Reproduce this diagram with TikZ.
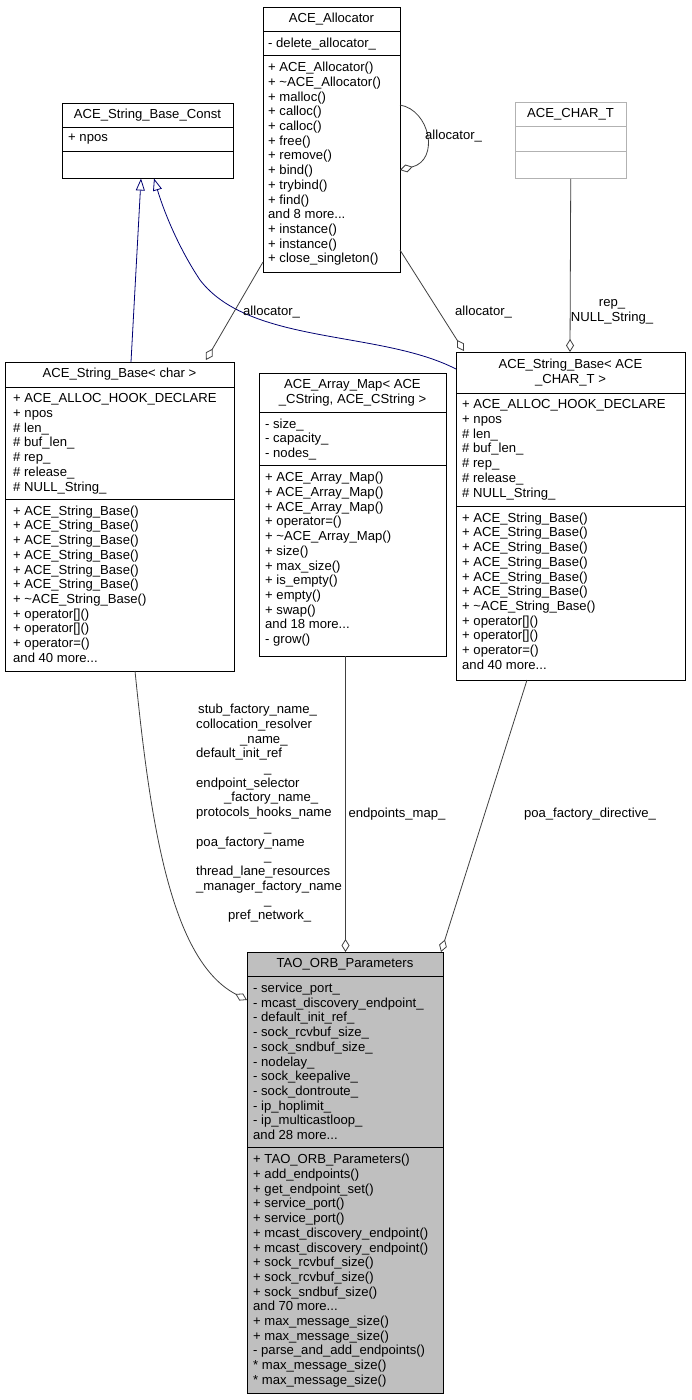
\documentclass[tikz,border=0pt]{standalone}
\usepackage{fontspec}
\setmainfont{Liberation Sans}
\usetikzlibrary{arrows.meta}
\begin{document}
\begin{tikzpicture}[x=1pt,y=-1pt,
  box/.style={draw=black,line width=0.8pt,fill=white,anchor=north west,inner sep=0pt},
  txt/.style={anchor=north west,inner sep=0pt,align=left,font=\fontsize{13.1}{14.7}\selectfont},
  ttl/.style={anchor=north,inner sep=0pt,align=center,font=\fontsize{13.1}{14.7}\selectfont},
  sep/.style={line width=0.8pt},
  agg/.style={draw=black!75,line width=0.8pt,-{Diamond[open,length=13pt,width=8pt,fill=white]}},
  inh/.style={draw=blue!45!black,line width=0.8pt,-{Triangle[open,length=12pt,width=9pt,fill=white]}},
  lbl/.style={inner sep=0pt,align=center,font=\fontsize{13.1}{14.7}\selectfont}]
\useasboundingbox (0,0) rectangle (691,1400);
\fill[white] (0,0) rectangle (691,1400);

% ACE_String_Base_Const
\node[box,minimum width=171pt,minimum height=75pt] (const) at (62,103) {};
\draw[sep] (62,127.3) -- (233,127.3); \draw[sep] (62,151.6) -- (233,151.6);
\node[ttl] (constT) at (147.5,109) {ACE\_String\_Base\_Const};
\node[txt] (constA) at (68,133.8) {+ npos};

% ACE_Allocator
\node[box,minimum width=137pt,minimum height=265pt] (alloc) at (263,7) {};
\draw[sep] (263,31.3) -- (400,31.3); \draw[sep] (263,55.6) -- (400,55.6);
\node[ttl] (allocT) at (331.5,13) {ACE\_Allocator};
\node[txt] (allocA) at (268,37.8) {- delete\_allocator\_};
\node[txt] (allocM) at (268,62.1) {+ ACE\_Allocator()\\+ \textasciitilde ACE\_Allocator()\\+ malloc()\\+ calloc()\\+ calloc()\\+ free()\\+ remove()\\+ bind()\\+ trybind()\\+ find()\\and 8 more...\\+ instance()\\+ instance()\\+ close\_singleton()};

% ACE_CHAR_T
\node[box,draw=black!30,minimum width=111pt,minimum height=76pt] (chart) at (515,102) {};
\draw[sep,black!30] (515,126.3) -- (626,126.3); \draw[sep,black!30] (515,151.6) -- (626,151.6);
\node[ttl] (chartT) at (570.5,108) {ACE\_CHAR\_T};

% ACE_String_Base<char>
\node[box,minimum width=229pt,minimum height=309pt] (sbc) at (5,362) {};
\draw[sep] (5,387) -- (234,387); \draw[sep] (5,499) -- (234,499);
\node[ttl] (sbcT) at (119.5,368) {ACE\_String\_Base< char >};
\node[txt] (sbcA) at (13,393.5) {+ ACE\_ALLOC\_HOOK\_DECLARE\\+ npos\\\# len\_\\\# buf\_len\_\\\# rep\_\\\# release\_\\\# NULL\_String\_};
\node[txt] (sbcM) at (13,505.5) {+ ACE\_String\_Base()\\+ ACE\_String\_Base()\\+ ACE\_String\_Base()\\+ ACE\_String\_Base()\\+ ACE\_String\_Base()\\+ ACE\_String\_Base()\\+ \textasciitilde ACE\_String\_Base()\\+ operator[]()\\+ operator[]()\\+ operator=()\\and 40 more...};

% ACE_Array_Map
\node[box,minimum width=187pt,minimum height=283pt] (amap) at (259,373) {};
\draw[sep] (259,412) -- (446,412); \draw[sep] (259,465.7) -- (446,465.7);
\node[ttl] (amapT) at (352.5,379) {ACE\_Array\_Map< ACE\\\_CString, ACE\_CString >};
\node[txt] (amapA) at (265,418.5) {- size\_\\- capacity\_\\- nodes\_};
\node[txt] (amapM) at (265,472.2) {+ ACE\_Array\_Map()\\+ ACE\_Array\_Map()\\+ ACE\_Array\_Map()\\+ operator=()\\+ \textasciitilde ACE\_Array\_Map()\\+ size()\\+ max\_size()\\+ is\_empty()\\+ empty()\\+ swap()\\and 18 more...\\- grow()};

% ACE_String_Base<ACE_CHAR_T>
\node[box,minimum width=229pt,minimum height=328pt] (sbt) at (456,352) {};
\draw[sep] (456,393) -- (685,393); \draw[sep] (456,506) -- (685,506);
\node[ttl] (sbtT) at (570.5,359) {ACE\_String\_Base< ACE\\\_CHAR\_T >};
\node[txt] (sbtA) at (462,399.5) {+ ACE\_ALLOC\_HOOK\_DECLARE\\+ npos\\\# len\_\\\# buf\_len\_\\\# rep\_\\\# release\_\\\# NULL\_String\_};
\node[txt] (sbtM) at (462,512.5) {+ ACE\_String\_Base()\\+ ACE\_String\_Base()\\+ ACE\_String\_Base()\\+ ACE\_String\_Base()\\+ ACE\_String\_Base()\\+ ACE\_String\_Base()\\+ \textasciitilde ACE\_String\_Base()\\+ operator[]()\\+ operator[]()\\+ operator=()\\and 40 more...};

% TAO_ORB_Parameters
\node[box,fill=black!25,minimum width=196pt,minimum height=441pt] (tao) at (247,952) {};
\draw[sep] (247,976.3) -- (443,976.3); \draw[sep] (247,1147.6) -- (443,1147.6);
\node[ttl] (taoT) at (345,958) {TAO\_ORB\_Parameters};
\node[txt] (taoA) at (253,982.8) {- service\_port\_\\- mcast\_discovery\_endpoint\_\\- default\_init\_ref\_\\- sock\_rcvbuf\_size\_\\- sock\_sndbuf\_size\_\\- nodelay\_\\- sock\_keepalive\_\\- sock\_dontroute\_\\- ip\_hoplimit\_\\- ip\_multicastloop\_\\and 28 more...};
\node[txt] (taoM) at (253,1154.1) {+ TAO\_ORB\_Parameters()\\+ add\_endpoints()\\+ get\_endpoint\_set()\\+ service\_port()\\+ service\_port()\\+ mcast\_discovery\_endpoint()\\+ mcast\_discovery\_endpoint()\\+ sock\_rcvbuf\_size()\\+ sock\_rcvbuf\_size()\\+ sock\_sndbuf\_size()\\and 70 more...\\+ max\_message\_size()\\+ max\_message\_size()\\- parse\_and\_add\_endpoints()\\* max\_message\_size()\\* max\_message\_size()};

% inheritance
\draw[inh] (131,362) -- (141,178.5);
\draw[inh] (456,369) .. controls (380,330) and (250,345) .. (200,280) .. controls (180,250) and (165,215) .. (154,178.5);

% aggregation
\coordinate (a1) at (263,262); \coordinate (a2) at (400,250);
\draw[agg] (a1) -- (206,360);
\draw[agg] (a2) -- (464,351);
\draw[agg] (400,105) .. controls (430,110) and (440,160) .. (400,170);
\draw[agg] (chart) -- (570,352);
\draw[agg] (135,671) .. controls (150,820) and (170,960) .. (247,1000);
\draw[agg] (345.5,656) -- (345.5,952);
\draw[agg] (527,680) -- (441,952);

% labels
\node[lbl,anchor=west] (l1) at (425,136) {allocator\_};
\node[lbl,anchor=west] (l2) at (243,312) {allocator\_};
\node[lbl,anchor=west] (l3) at (455,312) {allocator\_};
\node[lbl] (l4) at (612,312) {rep\_\\NULL\_String\_};
\node[lbl] (l5) at (397,814) {endpoints\_map\_};
\node[lbl] (l6) at (590,814) {poa\_factory\_directive\_};
\node[lbl,align=left,anchor=north west] (l7) at (196,704) {\hspace*{2pt}stub\_factory\_name\_\\collocation\_resolver\\\hspace*{44pt}\_name\_\\default\_init\_ref\\\hspace*{68pt}\_\\endpoint\_selector\\\hspace*{28pt}\_factory\_name\_\\protocols\_hooks\_name\\\hspace*{68pt}\_\\poa\_factory\_name\\\hspace*{68pt}\_\\thread\_lane\_resources\\\_manager\_factory\_name\\\hspace*{68pt}\_\\\hspace*{32pt}pref\_network\_};
\end{tikzpicture}
\end{document}
